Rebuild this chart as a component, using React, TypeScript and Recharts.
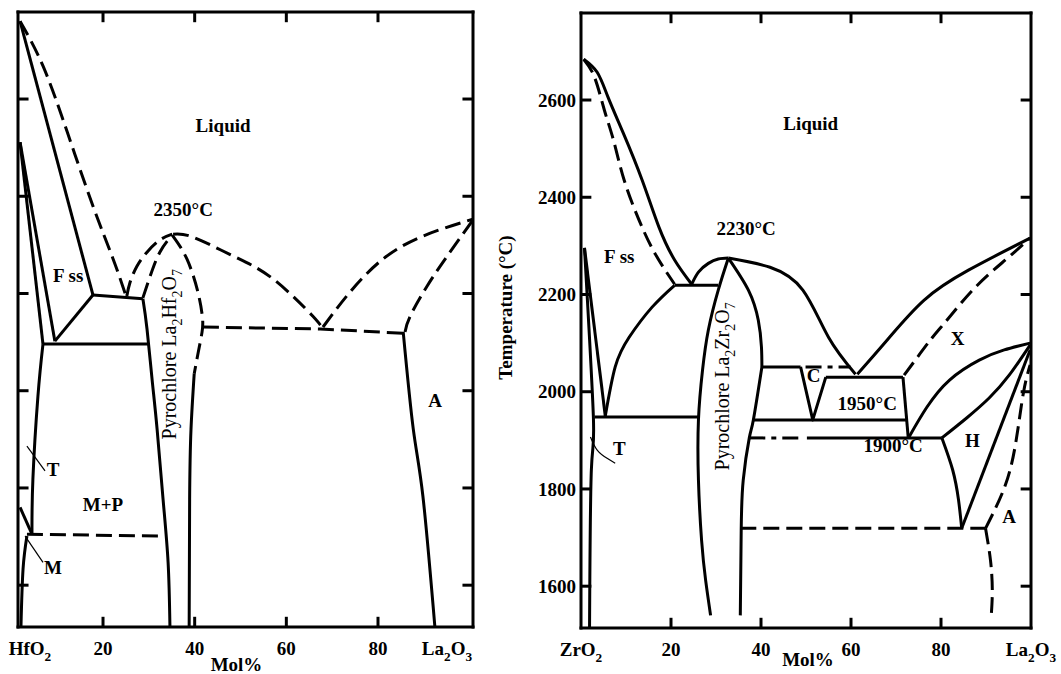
import React from 'react';
import { ComposedChart, Scatter, XAxis, YAxis, ReferenceDot, ReferenceLine } from 'recharts';

// Phase boundaries, [mol% La2O3, temperature °C]

// HfO2 – La2O3 (left)
const hfLiqSolid = [[1.9, 2760], [17.8, 2197]];
const hfLiqDashed = [[1.9, 2760], [6.9, 2668], [12.2, 2532], [17.8, 2380], [22.2, 2271], [25.0, 2195]];
const hfFss1 = [[1.9, 2511], [6.9, 2096]];
const hfFss2 = [[1.9, 2511], [9.5, 2102]];
const hfFssDiag = [[9.5, 2102], [17.8, 2197]];
const hfFssTop = [[17.8, 2197], [28.7, 2189]];
const hfTie2100 = [[6.9, 2096], [29.8, 2096]];
const hfPyroLeft = [[28.7, 2189], [29.6, 2127], [30.7, 2024], [31.8, 1921], [33.1, 1777], [34.2, 1647], [34.6, 1516]];
const hfLiqLeft = [[25.2, 2195], [25.9, 2223], [27.4, 2256], [29.6, 2285], [32.4, 2310], [35.1, 2322]];
const hfSolLeft = [[28.7, 2191], [30.3, 2236], [32.4, 2285], [35.1, 2320]];
const hfPyroRightDash = [[35.1, 2320], [38.3, 2271], [40.7, 2203], [41.7, 2150], [41.6, 2120], [40.8, 2080], [39.9, 2035]];
const hfPyroRight = [[39.9, 2035], [39.2, 1921], [38.9, 1777], [38.8, 1516]];
const hfLiqRight = [[35.3, 2322], [39.6, 2316], [48.4, 2277], [57.1, 2230], [65.8, 2153], [67.8, 2127]];
const hfEutectic = [[41.8, 2131], [67.4, 2127], [85.9, 2118]];
const hfLiqLa = [[68.0, 2131], [73.9, 2203], [81.1, 2271], [89.8, 2318], [100.7, 2353]];
const hfSolLa = [[85.9, 2121], [87.0, 2153], [90.7, 2215], [95.1, 2277], [100.7, 2351]];
const hfA = [[85.5, 2121], [87.7, 1921], [89.8, 1783], [92.4, 1516]];
const hfMP = [[3.4, 1705], [32.4, 1701]];
const hfT = [[6.9, 2096], [5.8, 1989], [4.7, 1818], [4.5, 1705]];
const hfM1 = [[1.9, 1760], [4.5, 1705]];
const hfM2 = [[3.4, 1701], [2.55, 1633], [2.1, 1516]];
const hfTLeader = [[3.4, 1886], [7.35, 1835]];
const hfMLeader = [[3.0, 1701], [6.9, 1647]];

// ZrO2 – La2O3 (right)
const zrLiqSolid = [[0.6, 2684], [3.6, 2657], [6.0, 2606], [9.4, 2532], [13.6, 2435], [17.3, 2339], [20.8, 2271], [24.6, 2221]];
const zrLiqDashed = [[0.6, 2684], [3.0, 2647], [5.2, 2579], [7.2, 2518], [9.6, 2435], [12.9, 2353], [16.4, 2285], [20.8, 2221]];
const zrTie2220 = [[20.8, 2219], [30.5, 2219]];
const zrPyroLiq = [[24.6, 2221], [26.1, 2246], [28.3, 2264], [30.5, 2273], [32.75, 2275]];
const zrLiqMid = [[32.75, 2275], [42.0, 2256], [49.3, 2209], [55.0, 2112], [61.0, 2036]];
const zrLiqX = [[61.4, 2036], [68.0, 2106], [76.2, 2188], [86.1, 2250], [99.8, 2316]];
const zrSolX = [[71.8, 2034], [74.6, 2069], [77.95, 2110], [81.3, 2147], [87.65, 2215], [94.3, 2271], [99.8, 2316]];
const zrPyroLeft = [[32.75, 2275], [30.5, 2209], [28.3, 2127], [27.0, 2044], [26.1, 1942], [26.1, 1818], [26.8, 1694], [27.7, 1612], [28.8, 1540]];
const zrPyroRightTop = [[32.75, 2275], [37.2, 2209], [39.4, 2147], [40.1, 2092], [40.2, 2051]];
const zrPyroRight = [[40.2, 2051], [38.3, 1942], [37.4, 1905], [36.05, 1818], [35.6, 1715], [35.4, 1540]];
const zrCTop = [[40.2, 2051], [48.8, 2051]];
const zrCTopDash = [[49.9, 2051], [59.9, 2051]];
const zrC = [[48.8, 2051], [51.5, 1942], [54.4, 2030]];
const zrTie2030 = [[54.4, 2030], [71.55, 2030]];
const zrXVert = [[71.55, 2030], [72.7, 1907]];
const zr1950 = [[38.3, 1942], [72.4, 1942]];
const zr1900Dash = [[37.4, 1905], [49.5, 1905]];
const zr1900 = [[50.2, 1905], [80.2, 1905]];
const zrXH = [[72.9, 1907], [76.85, 1968], [81.9, 2024], [88.5, 2065], [94.05, 2086], [99.8, 2100]];
const zrHTop = [[80.2, 1905], [85.7, 1946], [90.7, 1987], [95.15, 2034], [99.8, 2096]];
const zrHLeft = [[80.2, 1905], [82.6, 1839], [83.9, 1777], [84.6, 1719]];
const zrTie1720 = [[35.4, 1719], [89.9, 1719]];
const zrHA = [[84.6, 1719], [99.8, 2086]];
const zrA = [[89.9, 1719], [94.3, 1808], [96.7, 1900], [98.3, 1997], [99.8, 2055]];
const zrADown = [[89.9, 1719], [91.0, 1653], [91.4, 1592], [91.2, 1544]];
const zrFssLow = [[20.8, 2219], [15.8, 2174], [10.7, 2112], [7.6, 2051], [5.4, 1950]];
const zrFssT = [[0.77, 2296], [5.4, 1950]];
const zrT = [[0.77, 2296], [2.76, 1946], [2.3, 1839], [1.9, 1516]];
const zrTie1948 = [[3.0, 1948], [26.1, 1948]];
const zrTLeader = [[2.1, 1907], [3.6, 1880], [5.8, 1863], [7.6, 1853]];

// axes
const hfEdge = [1.45, 100.73];
const xTicks = [20, 40, 60, 80];
const tTicks = [1600, 1800, 2000, 2200, 2400, 2600];
const tDomain = [1514, 2779];
const hfTickLabels = ['HfO_2', '20', '40', '60', '80', 'La_2O_3'];
const zrTickLabels = ['ZrO_2', '20', '40', '60', '80', 'La_2O_3'];

// region labels
const hfNotes = [
  { t: 'Liquid', x: 46.2, y: 2532 },
  { t: '2350°C', x: 37.5, y: 2359 },
  { t: 'F ss', x: 12.4, y: 2223 },
  { t: 'Pyrochlore La_2Hf_2O_7', x: 35.9, y: 2075, rot: true },
  { t: 'A', x: 92.45, y: 1966 },
  { t: 'T', x: 9.1, y: 1824 },
  { t: 'M+P', x: 20, y: 1752 },
  { t: 'M', x: 9.1, y: 1623 },
];
const zrNotes = [
  { t: 'Liquid', x: 51.05, y: 2538 },
  { t: '2230°C', x: 36.7, y: 2322 },
  { t: 'F ss', x: 8.5, y: 2265 },
  { t: 'Pyrochlore La_2Zr_2O_7', x: 33.0, y: 2011, rot: true },
  { t: 'C', x: 51.7, y: 2020 },
  { t: 'X', x: 83.7, y: 2096 },
  { t: 'H', x: 87.0, y: 1886 },
  { t: 'A', x: 95.15, y: 1730 },
  { t: 'T', x: 8.5, y: 1870 },
  { t: '1950°C', x: 63.6, y: 1962 },
  { t: '1900°C', x: 69.35, y: 1876 },
];

const SERIF = "'Liberation Serif', 'Times New Roman', serif";
const SOLID = { strokeWidth: 3 };
const DASH = { strokeWidth: 3, strokeDasharray: '16 7' };
const DASHDOT = { strokeWidth: 3, strokeDasharray: '16 6 5 6' };
const THIN = { strokeWidth: 1.2 };

const hfLines = [
  { pts: hfLiqSolid, st: SOLID },
  { pts: hfLiqDashed, st: DASH, c: 'natural' },
  { pts: hfFss1, st: SOLID },
  { pts: hfFss2, st: SOLID },
  { pts: hfFssDiag, st: SOLID },
  { pts: hfFssTop, st: SOLID },
  { pts: hfTie2100, st: SOLID },
  { pts: hfPyroLeft, st: SOLID, c: 'natural' },
  { pts: hfLiqLeft, st: DASH, c: 'natural' },
  { pts: hfSolLeft, st: DASH, c: 'natural' },
  { pts: hfPyroRightDash, st: DASH, c: 'natural' },
  { pts: hfPyroRight, st: SOLID, c: 'natural' },
  { pts: hfLiqRight, st: DASH, c: 'natural' },
  { pts: hfEutectic, st: DASH },
  { pts: hfLiqLa, st: DASH, c: 'natural' },
  { pts: hfSolLa, st: DASH, c: 'natural' },
  { pts: hfA, st: SOLID, c: 'natural' },
  { pts: hfMP, st: DASH },
  { pts: hfT, st: SOLID, c: 'natural' },
  { pts: hfM1, st: SOLID },
  { pts: hfM2, st: SOLID, c: 'natural' },
  { pts: hfTLeader, st: THIN },
  { pts: hfMLeader, st: THIN },
];

const zrLines = [
  { pts: zrLiqSolid, st: SOLID, c: 'natural' },
  { pts: zrLiqDashed, st: DASH, c: 'natural' },
  { pts: zrTie2220, st: SOLID },
  { pts: zrPyroLiq, st: SOLID, c: 'natural' },
  { pts: zrLiqMid, st: SOLID, c: 'natural' },
  { pts: zrLiqX, st: SOLID, c: 'natural' },
  { pts: zrSolX, st: DASH, c: 'natural' },
  { pts: zrPyroLeft, st: SOLID, c: 'natural' },
  { pts: zrPyroRightTop, st: SOLID, c: 'natural' },
  { pts: zrPyroRight, st: SOLID, c: 'natural' },
  { pts: zrCTop, st: SOLID },
  { pts: zrCTopDash, st: DASHDOT },
  { pts: zrC, st: SOLID },
  { pts: zrTie2030, st: SOLID },
  { pts: zrXVert, st: SOLID },
  { pts: zr1950, st: SOLID },
  { pts: zr1900Dash, st: DASHDOT },
  { pts: zr1900, st: SOLID },
  { pts: zrXH, st: SOLID, c: 'natural' },
  { pts: zrHTop, st: SOLID, c: 'natural' },
  { pts: zrHLeft, st: SOLID, c: 'natural' },
  { pts: zrTie1720, st: DASH },
  { pts: zrHA, st: SOLID },
  { pts: zrA, st: DASH, c: 'natural' },
  { pts: zrADown, st: DASH, c: 'natural' },
  { pts: zrFssLow, st: SOLID, c: 'natural' },
  { pts: zrFssT, st: SOLID },
  { pts: zrT, st: SOLID, c: 'natural' },
  { pts: zrTie1948, st: SOLID },
  { pts: zrTLeader, st: THIN, c: 'natural' },
];

// "La_2O_3" -> La<sub>2</sub>O<sub>3</sub>
function rich(s: string, size: number) {
  const parts = s.split(/_(\d)/);
  const sh = size * 0.3;
  return parts.map((p, i) =>
    i % 2 ? (
      <tspan key={i} dy={sh} fontSize={size * 0.7}>{p}</tspan>
    ) : (
      <tspan key={i} dy={i ? -sh : 0}>{p}</tspan>
    )
  );
}

const noDot = () => <g />;

function drawLines(list: any[]) {
  return list.map((l, i) => (
    <Scatter
      key={'ln' + i}
      xAxisId="b"
      yAxisId="l"
      data={l.pts.map(([x, y]: number[]) => ({ x, y }))}
      shape={noDot}
      fill="none"
      line={{ stroke: '#000', fill: 'none', strokeLinejoin: 'round', ...l.st }}
      lineJointType={l.c ?? 'linear'}
      legendType="none"
      isAnimationActive={false}
    />
  ));
}

function drawNotes(list: any[]) {
  return list.map((n, i) => {
    const size = n.rot ? 20 : 19;
    const shape = (p: any) => (
      <text
        x={p.cx}
        y={p.cy}
        dy="0.35em"
        textAnchor="middle"
        fontFamily={SERIF}
        fontSize={size}
        fontWeight={n.rot ? 'normal' : 'bold'}
        fill="#000"
        transform={n.rot ? `rotate(-90 ${p.cx} ${p.cy})` : undefined}
      >
        {rich(n.t, size)}
      </text>
    );
    return <ReferenceDot key={'nt' + i} xAxisId="b" yAxisId="l" x={n.x} y={n.y} r={1} shape={shape} ifOverflow="visible" />;
  });
}

// inward tick marks on all four sides of the frame (length in data units ≈ 10 px)
function drawTicks(domain: number[], xLen: number, tLen: number) {
  const [x0, x1] = domain;
  const [t0, t1] = tDomain;
  const segs: any[] = [];
  xTicks.forEach((x) => {
    segs.push([{ x, y: t0 }, { x, y: t0 + tLen }]);
    segs.push([{ x, y: t1 }, { x, y: t1 - tLen }]);
  });
  tTicks.forEach((t) => {
    segs.push([{ x: x0, y: t }, { x: x0 + xLen, y: t }]);
    segs.push([{ x: x1, y: t }, { x: x1 - xLen, y: t }]);
  });
  return segs.map((s, i) => (
    <ReferenceLine key={'tk' + i} xAxisId="b" yAxisId="l" segment={s} stroke="#000" strokeWidth={3} ifOverflow="visible" />
  ));
}

const frameLine = { stroke: '#000', strokeWidth: 3, strokeLinecap: 'square' as const };

function xTickRenderer(ticks: number[], labels: string[], shifts: number[]) {
  return (p: any) => {
    const i = ticks.indexOf(p.payload.value);
    return (
      <text x={p.x + (shifts[i] || 0)} y={p.y + 28} textAnchor="middle" fontFamily={SERIF} fontSize={19} fontWeight="bold" fill="#000">
        {rich(labels[i] ?? String(p.payload.value), 19)}
      </text>
    );
  };
}

const yTickRenderer = (p: any) => (
  <text x={p.x} y={p.y} dy="0.35em" textAnchor="end" fontFamily={SERIF} fontSize={19} fontWeight="bold" fill="#000">
    {p.payload.value}
  </text>
);

const noTick = () => <g />;

function Panel(props: {
  width: number;
  margin: any;
  domain: number[];
  ticks: number[];
  labels: string[];
  shifts: number[];
  lines: any[];
  notes: any[];
  tLabels: boolean;
  molDx: number;
  molDy: number;
  xLen: number;
}) {
  const { width, margin, domain, ticks, labels, shifts, lines, notes, tLabels, molDx, molDy, xLen } = props;
  return (
    <ComposedChart width={width} height={674} margin={margin}>
      <XAxis
        xAxisId="b"
        type="number"
        dataKey="x"
        domain={domain}
        ticks={ticks}
        interval={0}
        allowDataOverflow
        height={1}
        axisLine={frameLine}
        tickLine={false}
        tickSize={0}
        tickMargin={0}
        tick={xTickRenderer(ticks, labels, shifts)}
        label={(p: any) => {
          const vb = p.viewBox || { x: 0, y: 0, width: 0, height: 0 };
          return (
            <text x={vb.x + vb.width / 2 + molDx} y={vb.y + molDy} textAnchor="middle" fontFamily={SERIF} fontSize={19} fontWeight="bold" fill="#000">
              Mol%
            </text>
          );
        }}
      />
      <XAxis xAxisId="t" orientation="top" type="number" dataKey="x" domain={domain} ticks={xTicks} interval={0} allowDataOverflow height={1} axisLine={frameLine} tickLine={false} tick={noTick} />
      <YAxis
        yAxisId="l"
        type="number"
        dataKey="y"
        domain={tDomain}
        ticks={tTicks}
        interval={0}
        allowDataOverflow
        width={1}
        axisLine={frameLine}
        tickLine={false}
        tickSize={0}
        tickMargin={5}
        tick={tLabels ? yTickRenderer : noTick}
        label={
          tLabels
            ? (p: any) => {
                const vb = p.viewBox || { x: 0, y: 0, width: 0, height: 0 };
                const cx = vb.x + vb.width - 76;
                const cy = vb.y + vb.height / 2 - 13;
                return (
                  <text x={cx} y={cy} dy="0.35em" textAnchor="middle" transform={`rotate(-90 ${cx} ${cy})`} fontFamily={SERIF} fontSize={19} fontWeight="bold" fill="#000">
                    Temperature (°C)
                  </text>
                );
              }
            : undefined
        }
      />
      <YAxis yAxisId="r" orientation="right" type="number" dataKey="y" domain={tDomain} ticks={tTicks} interval={0} allowDataOverflow width={1} axisLine={frameLine} tickLine={false} tick={noTick} />
      {drawTicks(domain, xLen, 21)}
      {drawLines(lines)}
      {drawNotes(notes)}
    </ComposedChart>
  );
}

export default function App() {
  return (
    <div style={{ position: 'relative', width: 1061, height: 674, background: '#fff' }}>
      <style>{'body{margin:0;background:#fff}'}</style>
      <div style={{ position: 'absolute', left: 0, top: 0 }}>
        <Panel
          width={490}
          margin={{ top: 11, left: 17, right: 16, bottom: 46 }}
          domain={hfEdge}
          ticks={[hfEdge[0], ...xTicks, hfEdge[1]]}
          labels={hfTickLabels}
          shifts={[12, 0, 0, 0, 0, -26]}
          lines={hfLines}
          notes={hfNotes}
          tLabels={false}
          molDx={-9}
          molDy={44}
          xLen={2.3}
        />
      </div>
      <div style={{ position: 'absolute', left: 490, top: 0 }}>
        <Panel
          width={571}
          margin={{ top: 12, left: 90, right: 29, bottom: 45 }}
          domain={[0, 100]}
          ticks={[0, ...xTicks, 100]}
          labels={zrTickLabels}
          shifts={[0, 0, 0, 0, 0, 0]}
          lines={zrLines}
          notes={zrNotes}
          tLabels={true}
          molDx={2}
          molDy={38}
          xLen={2.3}
        />
      </div>
    </div>
  );
}
